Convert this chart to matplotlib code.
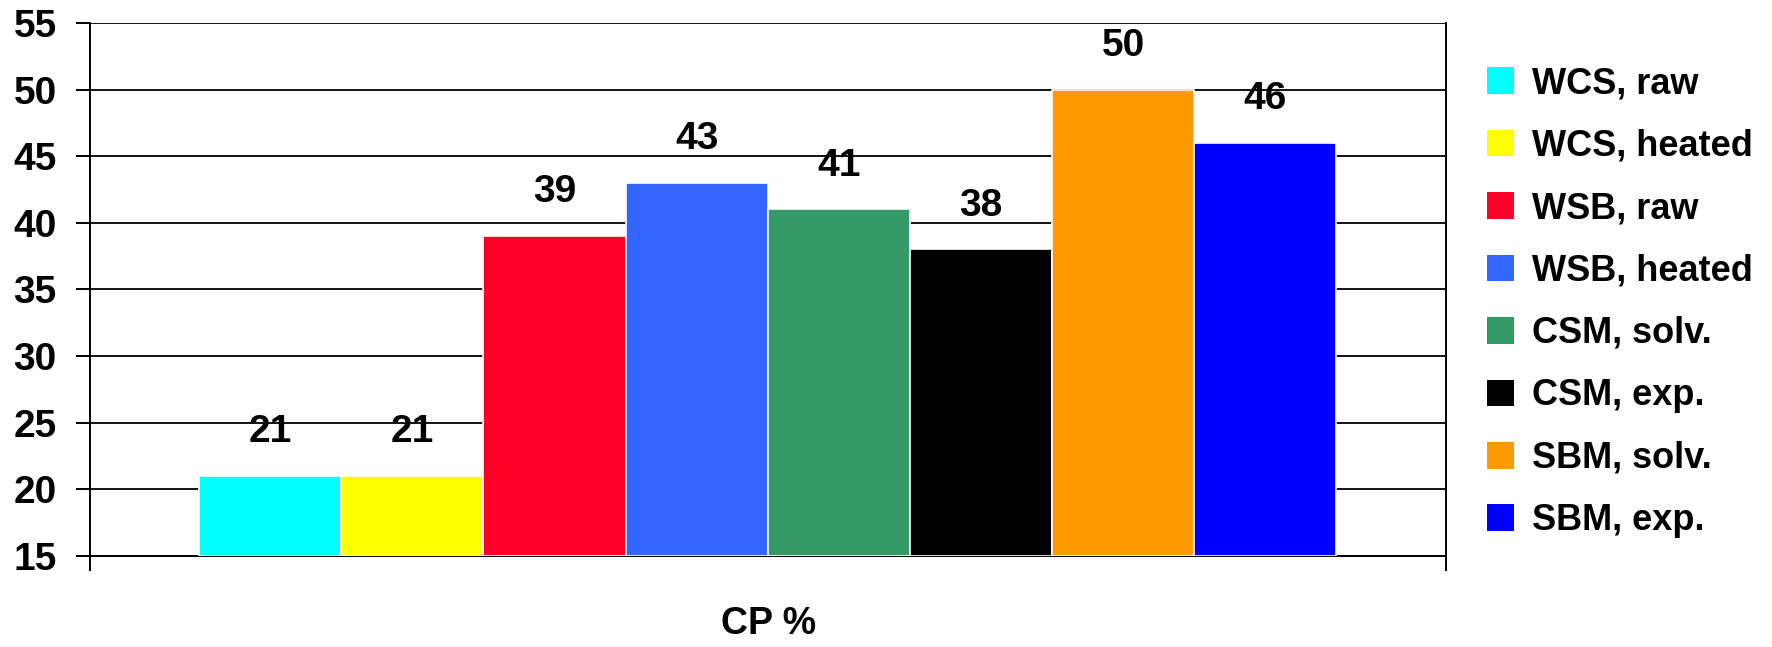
import matplotlib.pyplot as plt
import numpy as np
from matplotlib.patches import Patch

# Data
series_names = ["WCS, raw", "WCS, heated", "WSB, raw", "WSB, heated",
                "CSM, solv.", "CSM, exp.", "SBM, solv.", "SBM, exp."]
cp_values = [21, 21, 39, 43, 41, 38, 50, 46]
bar_colors = ["#00FFFF", "#FFFF00", "#FF0029", "#3366FF",
              "#339966", "#000000", "#FF9900", "#0000FF"]
category = "CP %"

plt.rcParams["font.family"] = ["Liberation Sans", "DejaVu Sans"]
plt.rcParams["font.weight"] = "bold"

fig = plt.figure(figsize=(17.72, 6.47), dpi=100)
ax = fig.add_axes([0.0508, 0.1406, 0.765, 0.824])

n = len(cp_values)
group_width = 0.839
bar_w = group_width / n
offsets = -group_width / 2 + (np.arange(n) + 0.5) * bar_w

base = 15
for x, v, c in zip(offsets, cp_values, bar_colors):
    ax.bar(x, v - base, bottom=base, width=bar_w, color=c,
           edgecolor="white", linewidth=1.2, zorder=3)
    ax.text(x, v + 3.3, str(v), ha="center", va="center",
            fontsize=28, fontweight="bold", zorder=4)

ax.set_xlim(-0.5, 0.5)
ax.set_ylim(15, 55)
ax.set_yticks(range(15, 56, 5))
ax.yaxis.grid(True, color="black", linewidth=1.3, zorder=0)
ax.set_axisbelow(True)

ax.set_xticks([-0.5, 0.5])
ax.set_xticklabels(["", ""])
ax.tick_params(axis="x", direction="out", length=11, width=1.4)
ax.tick_params(axis="y", direction="out", length=10, width=1.4,
               labelsize=28, pad=14)
for lab in ax.get_yticklabels():
    lab.set_fontweight("bold")

for side in ["left", "bottom", "right"]:
    ax.spines[side].set_linewidth(1.4)
    ax.spines[side].set_color("black")
ax.spines["top"].set_visible(False)

fig.text(0.4335, 0.035, category, ha="center", va="center",
         fontsize=27, fontweight="bold")

handles = [Patch(facecolor=c, edgecolor="none") for c in bar_colors]
fig.legend(handles, series_names, loc="upper left",
           bbox_to_anchor=(0.831, 0.92), frameon=False,
           prop={"size": 26, "weight": "bold"},
           handlelength=0.75, handleheight=0.75, handletextpad=0.5,
           labelspacing=0.76, borderaxespad=0)

plt.savefig("out.png", dpi=100)
plt.close()
